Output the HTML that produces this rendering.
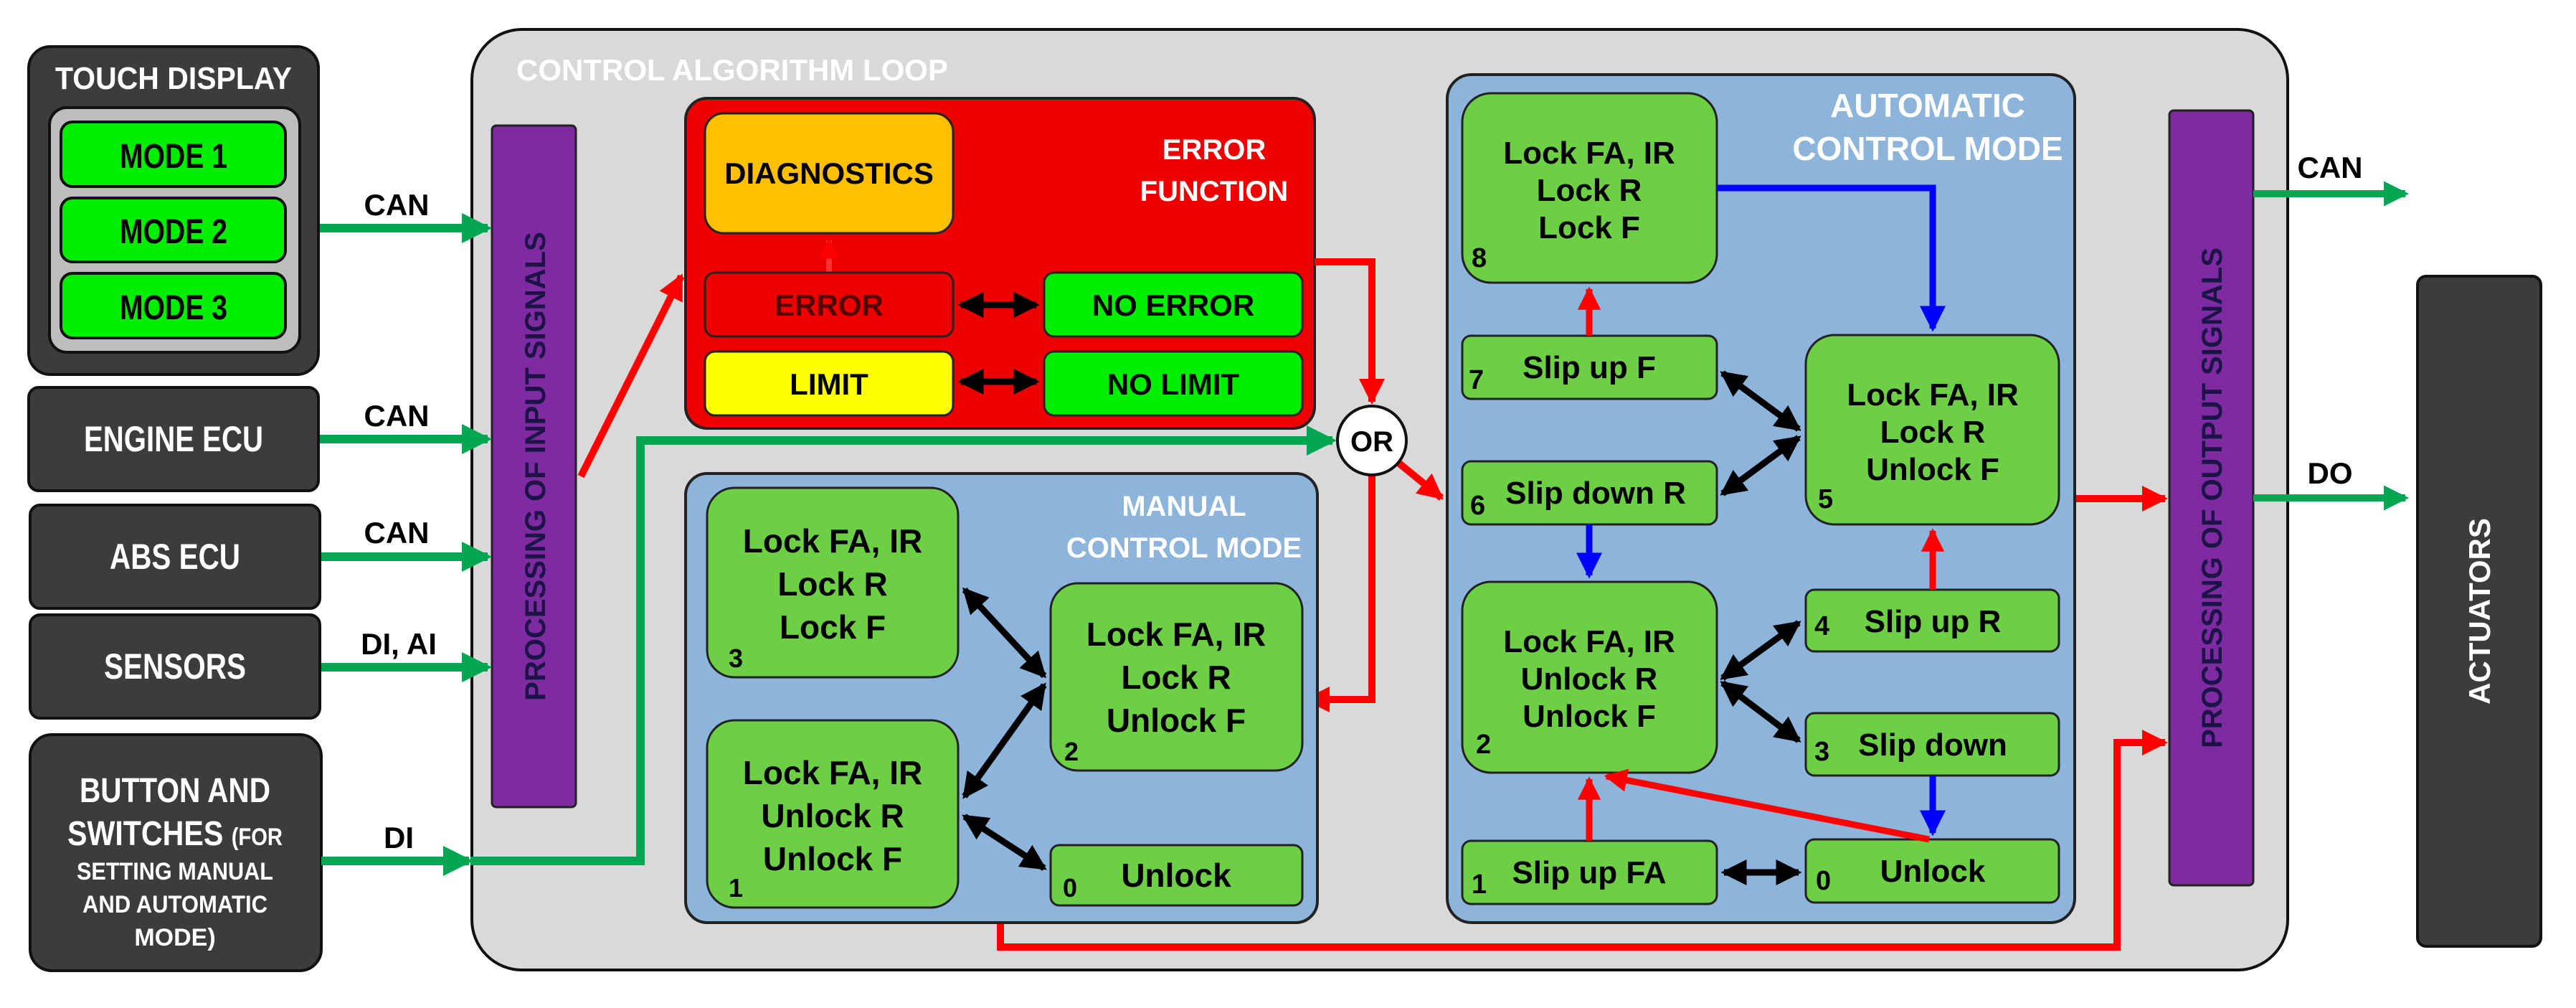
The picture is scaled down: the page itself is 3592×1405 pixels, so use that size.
<!DOCTYPE html>
<html><head><meta charset="utf-8"><style>
html,body{margin:0;padding:0;background:#fff;}
svg{display:block;}
text{font-family:"Liberation Sans Narrow","Liberation Sans",sans-serif;font-weight:bold;}
.w{fill:#fff;}
.s{font-family:"Liberation Sans",sans-serif;font-weight:bold;}
</style></head><body>
<svg width="3592" height="1405" viewBox="0 0 3592 1405" xmlns="http://www.w3.org/2000/svg">
<defs>
<marker id="ag" markerWidth="3.5" markerHeight="3.5" refX="3" refY="1.75" orient="auto" markerUnits="strokeWidth"><path d="M0,0 L3.5,1.75 L0,3.5 z" fill="#00a651"/></marker>
<marker id="ar" markerWidth="3.6" markerHeight="3.6" refX="3.2" refY="1.8" orient="auto" markerUnits="strokeWidth"><path d="M0,0 L3.6,1.8 L0,3.6 z" fill="#ff0000"/></marker>
<marker id="ab" markerWidth="4" markerHeight="4" refX="3.5" refY="2" orient="auto" markerUnits="strokeWidth"><path d="M0,0 L4,2 L0,4 z" fill="#0000ff"/></marker>
<marker id="ak" markerWidth="4" markerHeight="4" refX="3.5" refY="2" orient="auto-start-reverse" markerUnits="strokeWidth"><path d="M0,0 L4,2 L0,4 z" fill="#000"/></marker>
</defs>

<rect x="40" y="65" width="404" height="457" rx="30" fill="#3c3c3c" stroke="#111" stroke-width="4"/>
<text x="242" y="124" class="w" font-size="44" text-anchor="middle" textLength="330" lengthAdjust="spacingAndGlyphs">TOUCH DISPLAY</text>
<rect x="69" y="150" width="349" height="341" rx="24" fill="#bdbdbd" stroke="#111" stroke-width="4"/>
<rect x="85" y="170" width="313" height="90" rx="16" fill="#00ee00" stroke="#111" stroke-width="4"/>
<rect x="85" y="276" width="313" height="89" rx="16" fill="#00ee00" stroke="#111" stroke-width="4"/>
<rect x="85" y="381" width="313" height="90" rx="16" fill="#00ee00" stroke="#111" stroke-width="4"/>
<text x="242" y="234" font-size="48" text-anchor="middle" textLength="150" lengthAdjust="spacingAndGlyphs">MODE 1</text>
<text x="242" y="339" font-size="48" text-anchor="middle" textLength="150" lengthAdjust="spacingAndGlyphs">MODE 2</text>
<text x="242" y="445" font-size="48" text-anchor="middle" textLength="150" lengthAdjust="spacingAndGlyphs">MODE 3</text>

<rect x="40" y="540" width="404" height="144" rx="14" fill="#3c3c3c" stroke="#111" stroke-width="4"/>
<text x="242" y="629" class="w" font-size="50" text-anchor="middle" textLength="250" lengthAdjust="spacingAndGlyphs">ENGINE ECU</text>
<rect x="42" y="704" width="404" height="144" rx="14" fill="#3c3c3c" stroke="#111" stroke-width="4"/>
<text x="244" y="793" class="w" font-size="50" text-anchor="middle" textLength="182" lengthAdjust="spacingAndGlyphs">ABS ECU</text>
<rect x="42" y="857" width="404" height="144" rx="14" fill="#3c3c3c" stroke="#111" stroke-width="4"/>
<text x="244" y="946" class="w" font-size="50" text-anchor="middle" textLength="198" lengthAdjust="spacingAndGlyphs">SENSORS</text>
<rect x="42" y="1024" width="406" height="329" rx="30" fill="#3c3c3c" stroke="#111" stroke-width="4"/>
<text x="244" y="1118" class="w" font-size="48" text-anchor="middle" textLength="266" lengthAdjust="spacingAndGlyphs">BUTTON AND</text>
<text x="244" y="1178" class="w" font-size="48" text-anchor="middle" textLength="300" lengthAdjust="spacingAndGlyphs">SWITCHES <tspan font-size="34">(FOR</tspan></text>
<text x="244" y="1226" class="w" font-size="34" text-anchor="middle" textLength="274" lengthAdjust="spacingAndGlyphs">SETTING MANUAL</text>
<text x="244" y="1272" class="w" font-size="34" text-anchor="middle" textLength="258" lengthAdjust="spacingAndGlyphs">AND AUTOMATIC</text>
<text x="244" y="1318" class="w" font-size="34" text-anchor="middle">MODE)</text>

<rect x="658" y="41" width="2532" height="1311" rx="70" fill="#d9d9d9" stroke="#111" stroke-width="4"/>
<text x="720" y="112" class="w" font-size="42">CONTROL ALGORITHM LOOP</text>

<rect x="686" y="175" width="117" height="950" rx="6" fill="#7e2aa0" stroke="#222" stroke-width="3"/>
<text class="s" font-size="40" fill="#1c1447" text-anchor="middle" transform="translate(760,650) rotate(-90)">PROCESSING OF INPUT SIGNALS</text>

<g stroke="#00a651" stroke-width="12" fill="none">
<line x1="446" y1="318" x2="680" y2="318" marker-end="url(#ag)"/>
<line x1="446" y1="612" x2="680" y2="612" marker-end="url(#ag)"/>
<line x1="448" y1="776" x2="680" y2="776" marker-end="url(#ag)"/>
<line x1="448" y1="930" x2="680" y2="930" marker-end="url(#ag)"/>
<line x1="448" y1="1200" x2="654" y2="1200" marker-end="url(#ag)"/>
<polyline points="656,1200 893,1200 893,614 1858,614" marker-end="url(#ag)"/>
</g>
<text x="553" y="300" font-size="42" text-anchor="middle">CAN</text>
<text x="553" y="594" font-size="42" text-anchor="middle">CAN</text>
<text x="553" y="757" font-size="42" text-anchor="middle">CAN</text>
<text x="556" y="912" font-size="42" text-anchor="middle">DI, AI</text>
<text x="556" y="1182" font-size="42" text-anchor="middle">DI</text>

<rect x="956" y="137" width="877" height="460" rx="30" fill="#ee0000" stroke="#222" stroke-width="4"/>
<text x="1693" y="222" class="w s" font-size="40" text-anchor="middle">ERROR</text>
<text x="1693" y="280" class="w s" font-size="40" text-anchor="middle">FUNCTION</text>
<rect x="983" y="158" width="346" height="167" rx="26" fill="#ffc000" stroke="#222" stroke-width="3"/>
<text x="1156" y="256" class="s" font-size="42" text-anchor="middle">DIAGNOSTICS</text>
<line x1="1156" y1="380" x2="1156" y2="335" stroke="#ff3030" stroke-width="8" marker-end="url(#ar)"/>
<rect x="983" y="380" width="346" height="89" rx="14" fill="#ee0000" stroke="#222" stroke-width="3"/>
<text x="1156" y="440" class="s" font-size="42" text-anchor="middle" fill="#550000">ERROR</text>
<rect x="983" y="490" width="346" height="89" rx="14" fill="#ffff00" stroke="#222" stroke-width="3"/>
<text x="1156" y="550" class="s" font-size="42" text-anchor="middle">LIMIT</text>
<rect x="1456" y="380" width="360" height="89" rx="14" fill="#00ee00" stroke="#222" stroke-width="3"/>
<text x="1636" y="440" class="s" font-size="42" text-anchor="middle">NO ERROR</text>
<rect x="1456" y="490" width="360" height="89" rx="14" fill="#00ee00" stroke="#222" stroke-width="3"/>
<text x="1636" y="550" class="s" font-size="42" text-anchor="middle">NO LIMIT</text>
<g stroke="#000" stroke-width="9">
<line x1="1340" y1="425" x2="1445" y2="425" marker-start="url(#ak)" marker-end="url(#ak)"/>
<line x1="1340" y1="532" x2="1445" y2="532" marker-start="url(#ak)" marker-end="url(#ak)"/>
</g>

<g stroke="#ff0000" stroke-width="10" fill="none">
<line x1="810" y1="664" x2="950" y2="385" marker-end="url(#ar)"/>
<polyline points="1833,365 1913,365 1913,560" marker-end="url(#ar)"/>
<polyline points="1913,662 1913,975 1822,975" marker-end="url(#ar)"/>
<line x1="1950" y1="645" x2="2010" y2="694" marker-end="url(#ar)"/>
<polyline points="1395,1286 1395,1320 2952,1320 2952,1035 3019,1035" marker-end="url(#ar)"/>
<line x1="2871" y1="695" x2="3019" y2="695" marker-end="url(#ar)"/>
</g>
<circle cx="1913" cy="614" r="48" fill="#fff" stroke="#111" stroke-width="4"/>
<text x="1913" y="629" class="s" font-size="40" text-anchor="middle">OR</text>

<rect x="956" y="660" width="881" height="626" rx="30" fill="#8db4da" stroke="#222" stroke-width="4"/>
<text x="1651" y="719" class="w s" font-size="40" text-anchor="middle">MANUAL</text>
<text x="1651" y="777" class="w s" font-size="40" text-anchor="middle">CONTROL MODE</text>
<g fill="#6dcf44" stroke="#222" stroke-width="3">
<rect x="986" y="680" width="350" height="264" rx="38"/>
<rect x="986" y="1004" width="350" height="261" rx="38"/>
<rect x="1465" y="813" width="351" height="261" rx="38"/>
<rect x="1465" y="1178" width="351" height="84" rx="12"/>
</g>
<g font-size="46" text-anchor="middle">
<text x="1161" y="770" class="s">Lock FA, IR</text><text x="1161" y="830" class="s">Lock R</text><text x="1161" y="890" class="s">Lock F</text>
<text x="1161" y="1093" class="s">Lock FA, IR</text><text x="1161" y="1153" class="s">Unlock R</text><text x="1161" y="1213" class="s">Unlock F</text>
<text x="1640" y="900" class="s">Lock FA, IR</text><text x="1640" y="960" class="s">Lock R</text><text x="1640" y="1020" class="s">Unlock F</text>
<text x="1640" y="1236" class="s">Unlock</text>
</g>
<g font-size="36">
<text x="1016" y="930" class="s">3</text><text x="1016" y="1250" class="s">1</text><text x="1484" y="1060" class="s">2</text><text x="1482" y="1250" class="s">0</text>
</g>
<g stroke="#000" stroke-width="9">
<line x1="1345" y1="822" x2="1456" y2="942" marker-start="url(#ak)" marker-end="url(#ak)"/>
<line x1="1345" y1="1110" x2="1456" y2="955" marker-start="url(#ak)" marker-end="url(#ak)"/>
<line x1="1345" y1="1138" x2="1456" y2="1210" marker-start="url(#ak)" marker-end="url(#ak)"/>
</g>

<rect x="2018" y="104" width="875" height="1182" rx="34" fill="#8db4da" stroke="#222" stroke-width="4"/>
<text x="2688" y="163" class="w" font-size="46" text-anchor="middle">AUTOMATIC</text>
<text x="2688" y="223" class="w" font-size="46" text-anchor="middle">CONTROL MODE</text>
<g fill="#6dcf44" stroke="#222" stroke-width="3">
<rect x="2039" y="130" width="355" height="264" rx="40"/>
<rect x="2039" y="468" width="355" height="88" rx="12"/>
<rect x="2039" y="643" width="355" height="88" rx="12"/>
<rect x="2039" y="811" width="355" height="266" rx="40"/>
<rect x="2039" y="1172" width="355" height="88" rx="12"/>
<rect x="2518" y="467" width="353" height="264" rx="40"/>
<rect x="2518" y="822" width="353" height="86" rx="12"/>
<rect x="2518" y="994" width="353" height="87" rx="12"/>
<rect x="2518" y="1170" width="353" height="88" rx="12"/>
</g>
<g font-size="44" text-anchor="middle">
<text x="2216" y="228">Lock FA, IR</text><text x="2216" y="280">Lock R</text><text x="2216" y="332">Lock F</text>
<text x="2216" y="527">Slip up F</text>
<text x="2225" y="702">Slip down R</text>
<text x="2216" y="909">Lock FA, IR</text><text x="2216" y="961">Unlock R</text><text x="2216" y="1013">Unlock F</text>
<text x="2216" y="1231">Slip up FA</text>
<text x="2695" y="565">Lock FA, IR</text><text x="2695" y="617">Lock R</text><text x="2695" y="669">Unlock F</text>
<text x="2695" y="881">Slip up R</text>
<text x="2695" y="1053">Slip down</text>
<text x="2695" y="1229">Unlock</text>
</g>
<g font-size="38">
<text x="2052" y="372">8</text><text x="2048" y="542">7</text><text x="2050" y="717">6</text><text x="2058" y="1050">2</text><text x="2052" y="1245">1</text>
<text x="2535" y="708">5</text><text x="2530" y="885">4</text><text x="2530" y="1060">3</text><text x="2532" y="1240">0</text>
</g>
<g stroke="#0000ff" stroke-width="9" fill="none">
<polyline points="2394,262 2695,262 2695,458" marker-end="url(#ab)"/>
<line x1="2216" y1="731" x2="2216" y2="802" marker-end="url(#ab)"/>
<line x1="2695" y1="1081" x2="2695" y2="1161" marker-end="url(#ab)"/>
</g>
<g stroke="#ff0000" stroke-width="9" fill="none">
<line x1="2216" y1="468" x2="2216" y2="403" marker-end="url(#ar)"/>
<line x1="2695" y1="822" x2="2695" y2="740" marker-end="url(#ar)"/>
<line x1="2216" y1="1172" x2="2216" y2="1086" marker-end="url(#ar)"/>
<line x1="2690" y1="1170" x2="2240" y2="1082" marker-end="url(#ar)"/>
</g>
<g stroke="#000" stroke-width="9">
<line x1="2402" y1="520" x2="2508" y2="598" marker-start="url(#ak)" marker-end="url(#ak)"/>
<line x1="2402" y1="688" x2="2508" y2="610" marker-start="url(#ak)" marker-end="url(#ak)"/>
<line x1="2402" y1="945" x2="2508" y2="868" marker-start="url(#ak)" marker-end="url(#ak)"/>
<line x1="2402" y1="952" x2="2508" y2="1032" marker-start="url(#ak)" marker-end="url(#ak)"/>
<line x1="2404" y1="1216" x2="2508" y2="1216" marker-start="url(#ak)" marker-end="url(#ak)"/>
</g>

<rect x="3025" y="154" width="117" height="1080" rx="6" fill="#7e2aa0" stroke="#222" stroke-width="3"/>
<text class="s" font-size="40" fill="#1c1447" text-anchor="middle" transform="translate(3098,694) rotate(-90)">PROCESSING OF OUTPUT SIGNALS</text>
<g stroke="#00a651" stroke-width="10" fill="none">
<line x1="3142" y1="270" x2="3354" y2="270" marker-end="url(#ag)"/>
<line x1="3142" y1="694" x2="3354" y2="694" marker-end="url(#ag)"/>
</g>
<text x="3249" y="248" font-size="42" text-anchor="middle">CAN</text>
<text x="3249" y="674" font-size="42" text-anchor="middle">DO</text>

<rect x="3371" y="385" width="172" height="934" rx="12" fill="#3c3c3c" stroke="#111" stroke-width="4"/>
<text class="w s" font-size="42" text-anchor="middle" transform="translate(3472,852) rotate(-90)">ACTUATORS</text>
</svg>
</body></html>
